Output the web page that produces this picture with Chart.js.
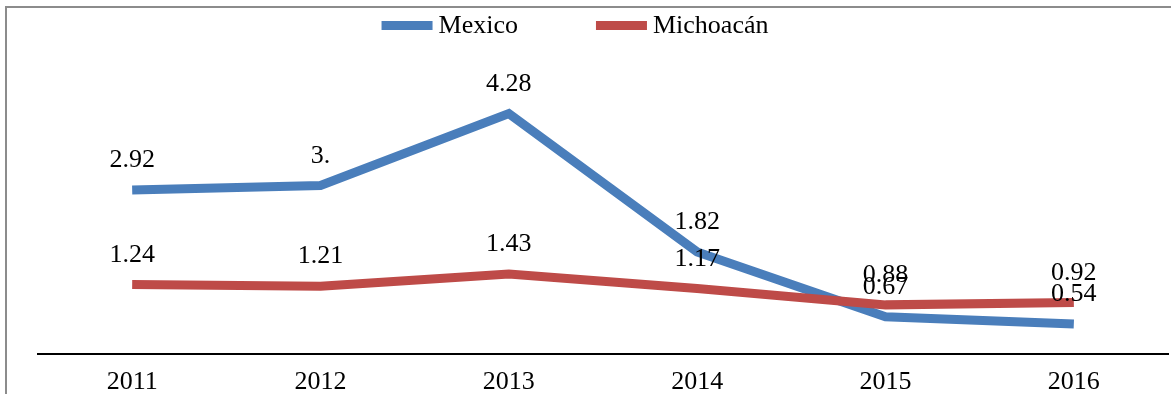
<!DOCTYPE html>
<html>
<head>
<meta charset="utf-8">
<script src="https://cdn.jsdelivr.net/npm/chart.js"></script>
<style>
    html, body { margin: 0; padding: 0; background: #fff; }
    #wrap { width: 1171px; height: 394px; position: relative; }
</style>
</head>
<body>
<div id="wrap"><canvas id="trend"></canvas></div>
<script>
const years = ['2011', '2012', '2013', '2014', '2015', '2016'];
const mexico = [2.92, 3.00, 4.28, 1.82, 0.67, 0.54];
const michoacan = [1.24, 1.21, 1.43, 1.17, 0.88, 0.92];

const serif = "'Liberation Serif', 'Times New Roman', serif";

// 2 decimals, trailing zeros dropped ("3.00" -> "3.")
function fmt(v) {
    return v.toFixed(2).replace(/0+$/, '');
}

// grey frame along the top and left edge
const framePlugin = {
    id: 'frame',
    beforeDraw: function (chart) {
        const c = chart.ctx;
        c.save();
        c.strokeStyle = '#8c8c8c';
        c.lineWidth = 2;
        c.beginPath();
        c.moveTo(6, chart.height);
        c.lineTo(6, 7);
        c.lineTo(chart.width, 7);
        c.stroke();
        c.restore();
    }
};

// line-swatch legend, centred near the top
const legendPlugin = {
    id: 'swatchLegend',
    afterDraw: function (chart) {
        const c = chart.ctx;
        const sets = chart.data.datasets;
        const boxW = 51, boxH = 9, gapText = 6, gapItem = 78;
        c.save();
        c.font = '26px ' + serif;
        c.textBaseline = 'alphabetic';
        c.textAlign = 'left';
        let total = 0;
        sets.forEach(function (ds, i) {
            total += boxW + gapText + c.measureText(ds.label).width + (i < sets.length - 1 ? gapItem : 0);
        });
        let x = 575 - total / 2;
        sets.forEach(function (ds) {
            c.fillStyle = ds.borderColor;
            c.fillRect(x, 21, boxW, boxH);
            x += boxW + gapText;
            c.fillStyle = '#000';
            c.fillText(ds.label, x, 33);
            x += c.measureText(ds.label).width + gapItem;
        });
        c.restore();
    }
};

// value labels above each point
const valueLabels = {
    id: 'valueLabels',
    afterDatasetsDraw: function (chart) {
        const c = chart.ctx;
        c.save();
        c.font = '26px ' + serif;
        c.fillStyle = '#000';
        c.textAlign = 'center';
        c.textBaseline = 'alphabetic';
        chart.data.datasets.forEach(function (ds, i) {
            chart.getDatasetMeta(i).data.forEach(function (pt, j) {
                c.fillText(fmt(ds.data[j]), pt.x, pt.y - 23);
            });
        });
        c.restore();
    }
};

new Chart(document.getElementById('trend'), {
    type: 'line',
    data: {
        labels: years,
        datasets: [
            {
                label: 'Mexico',
                data: mexico,
                borderColor: '#4a7ebb',
                backgroundColor: '#4a7ebb',
                borderWidth: 9,
                pointRadius: 0,
                tension: 0,
                order: 2
            },
            {
                label: 'Michoacán',
                data: michoacan,
                borderColor: '#be4b48',
                backgroundColor: '#be4b48',
                borderWidth: 9,
                pointRadius: 0,
                tension: 0,
                order: 1
            }
        ]
    },
    options: {
        responsive: true,
        maintainAspectRatio: false,
        animation: false,
        layout: { padding: { top: 73, left: 38, right: 3, bottom: -15 } },
        plugins: {
            legend: { display: false },
            tooltip: { enabled: false }
        },
        scales: {
            x: {
                offset: true,
                grid: { display: false, drawTicks: false },
                border: { display: true, color: '#000', width: 2 },
                ticks: {
                    color: '#000',
                    padding: 13,
                    font: { family: serif, size: 26, lineHeight: 1.1 }
                }
            },
            y: {
                display: false,
                min: 0,
                max: 5
            }
        }
    },
    plugins: [framePlugin, legendPlugin, valueLabels]
});
</script>
</body>
</html>
